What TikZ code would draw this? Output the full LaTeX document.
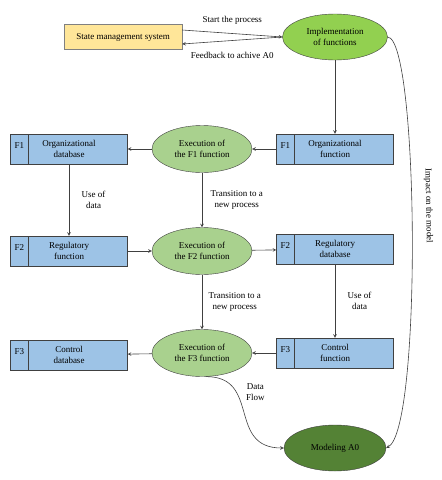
\documentclass[tikz,border=0pt]{standalone}
\usepackage{fontspec}
\setmainfont{Liberation Serif}
\usetikzlibrary{positioning,shapes.geometric}
\definecolor{boxblue}{HTML}{9DC3E6}
\definecolor{smsyellow}{HTML}{FFE699}
\definecolor{execgreen}{HTML}{A9D18E}
\definecolor{implgreen}{HTML}{92D050}
\definecolor{modelgreen}{HTML}{548235}
\definecolor{edgegray}{HTML}{404040}
\tikzstyle{sms} = [rectangle, text centered, draw=gray, fill=smsyellow, minimum width=118pt, minimum height=25pt]
\tikzstyle{func} = [rectangle, align=center, draw=edgegray, fill=boxblue, minimum width=117pt, minimum height=30pt, inner sep=1pt,
  label={[anchor=west, inner sep=4pt, yshift=3pt]west:#1},
  path picture={\draw[edgegray] ([xshift=18pt]path picture bounding box.north west) -- ([xshift=18pt]path picture bounding box.south west);}]
\tikzstyle{exec} = [ellipse, align=center, draw=edgegray, fill=execgreen, minimum width=100pt, minimum height=47pt, inner sep=1pt]
\tikzstyle{impl} = [ellipse, align=center, draw=edgegray, fill=implgreen, minimum width=105pt, minimum height=46pt, inner sep=1pt]
\tikzstyle{final} = [ellipse, align=center, draw=edgegray, fill=modelgreen, minimum width=102pt, minimum height=46pt, inner sep=1pt]
\tikzstyle{arrow} = [semithick, draw=edgegray, ->, >=stealth]

\begin{document}
\begin{tikzpicture}[x=1pt, y=1pt, node distance=102pt, font=\fontsize{9}{11}\selectfont]
  \useasboundingbox (0,0) rectangle (442,-480);
  \node (impl) [impl] at (335,-37) {Implementation\\of functions};
  \node (state) [sms, left of=impl, xshift=-110pt] {State management system};

  \node (f1fun) [func=F1, below of=impl, yshift=-10pt] {Organizational\\function};
  \node (f1exec) [exec, left of=f1fun, xshift=-31pt] {Execution of\\the F1 function};
  \node (f1db) [func=F1, left of=f1exec, xshift=-31pt] {Organizational\\database};

  \node (f2exec) [exec, below of=f1exec] {Execution of\\the F2 function};
  \node (f2fun) [func=F2, left of=f2exec, xshift=-31pt] {Regulatory\\function};
  \node (f2db) [func=F2, right of=f2exec, xshift=31pt, yshift=2pt] {Regulatory\\database};

  \node (f3exec) [exec, below of=f2exec] {Execution of\\the F3 function};
  \node (f3db) [func=F3, left of=f3exec, xshift=-31pt, yshift=-2pt] {Control\\database};
  \node (f3fun) [func=F3, right of=f3exec, xshift=31pt] {Control\\function};

  \node (model) [final, below of=f3fun, yshift=7pt] {Modeling A0};

  \draw [arrow] ([yshift=7pt]state.east) -- node[above, yshift=5pt] {Start the process} (impl.west);
  \draw [arrow] (impl.west) -- node[below, yshift=-8pt] {Feedback to achive A0} ([yshift=-7pt]state.east);

  \draw [arrow] (impl) -- (f1fun);
  \draw [arrow] (f1fun) -- (f1exec);
  \draw [arrow] (f1exec) -- (f1db);
  \draw [arrow] (f1db) -- node[right, align=center, xshift=9pt] {Use of\\data} (f2fun);
  \draw [arrow] (f1exec) -- node[right, align=center, xshift=5pt] {Transition to a\\new process} (f2exec);

  \draw [arrow] (f2fun) -- (f2exec);
  \draw [arrow] (f2exec) -- (f2db);
  \draw [arrow] (f2db) -- node[right, align=center, xshift=9pt] {Use of\\data} (f3fun);
  \draw [arrow] (f2exec) -- node[right, align=center, xshift=3pt] {Transition to a\\new process} (f3exec);

  \draw [arrow] (f3fun) -- (f3exec);
  \draw [arrow] (f3exec) -- (f3db);

  \draw [arrow] (f3exec.-80) .. controls +(55pt,0pt) and +(-57pt,0pt) .. node[pos=0.3, right, align=center, xshift=6pt] {Data\\Flow} (model.west);
  \draw [arrow] (impl.east) .. controls +(31pt,-2pt) and +(36pt,19pt) .. node[pos=0.45, sloped, above=9pt] {Impact on the model} (model.east);
\end{tikzpicture}
\end{document}
